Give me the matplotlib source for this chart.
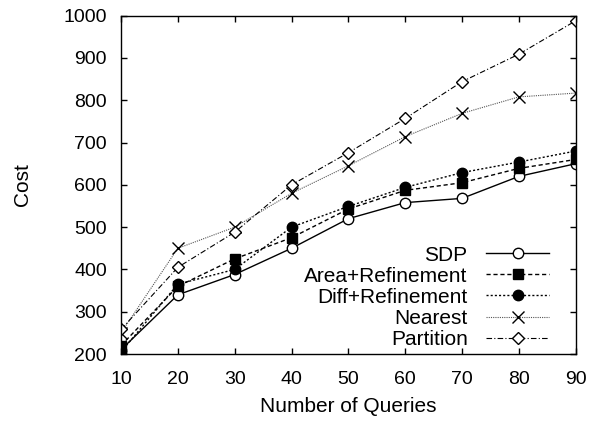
from matplotlib import pyplot as plt

plt.rcParams['font.family'] = ['Liberation Sans', 'DejaVu Sans']
plt.rcParams['font.size'] = 15

# Number of queries on the x axis
queries = [10, 20, 30, 40, 50, 60, 70, 80, 90]

# Cost of each method
sdp = [210, 340, 388, 450, 520, 558, 568, 620, 650]
area_ref = [220, 360, 425, 475, 543, 587, 605, 639, 660]
diff_ref = [205, 365, 400, 500, 549, 594, 629, 654, 680]
nearest = [250, 450, 500, 580, 645, 714, 769, 808, 817]
partition = [258, 405, 488, 600, 676, 757, 844, 909, 988]

fig = plt.figure(figsize=(5.92, 4.23), dpi=100)
ax = fig.add_axes([0.2044, 0.1631, 0.7681, 0.7998])

ms = 7.5
ax.plot(queries, sdp, color='black', lw=1.0, ls='-', marker='o',
        ms=ms, mfc='white', mec='black', mew=1.0, label='SDP')
ax.plot(queries, area_ref, color='black', lw=1.0, ls=(0, (3, 2)), marker='s',
        ms=ms - 0.5, mfc='black', mec='black', label='Area+Refinement')
ax.plot(queries, diff_ref, color='black', lw=1.0, ls=(0, (1.5, 1.5)), marker='o',
        ms=ms, mfc='black', mec='black', label='Diff+Refinement')
ax.plot(queries, nearest, color='#555555', lw=0.8, ls=(0, (1, 1)), marker='x',
        ms=ms + 1, mec='black', mew=1.0, label='Nearest')
ax.plot(queries, partition, color='black', lw=0.8, ls=(0, (5, 2, 1, 2)), marker='D',
        ms=ms - 1.5, mfc='white', mec='black', mew=1.0, label='Partition')

ax.set_xlim(10, 90)
ax.set_ylim(200, 1000)
ax.set_xticks(queries)
ax.set_yticks(range(200, 1001, 100))
ax.tick_params(direction='in', top=True, right=True, length=4, width=1.0,
               labelsize=14)
ax.tick_params(axis='y', pad=10)
ax.tick_params(axis='x', pad=12)
for s in ax.spines.values():
    s.set_linewidth(1.0)

ax.set_xlabel('Number of Queries', labelpad=7)
ax.set_ylabel('Cost', labelpad=23)

ax.legend(loc='lower right', bbox_to_anchor=(0.941, 0.015), markerfirst=False,
          frameon=False, handlelength=3.0, labelspacing=0.1, borderpad=0,
          borderaxespad=0, handletextpad=0.9)

fig.savefig('out.png', dpi=100)
